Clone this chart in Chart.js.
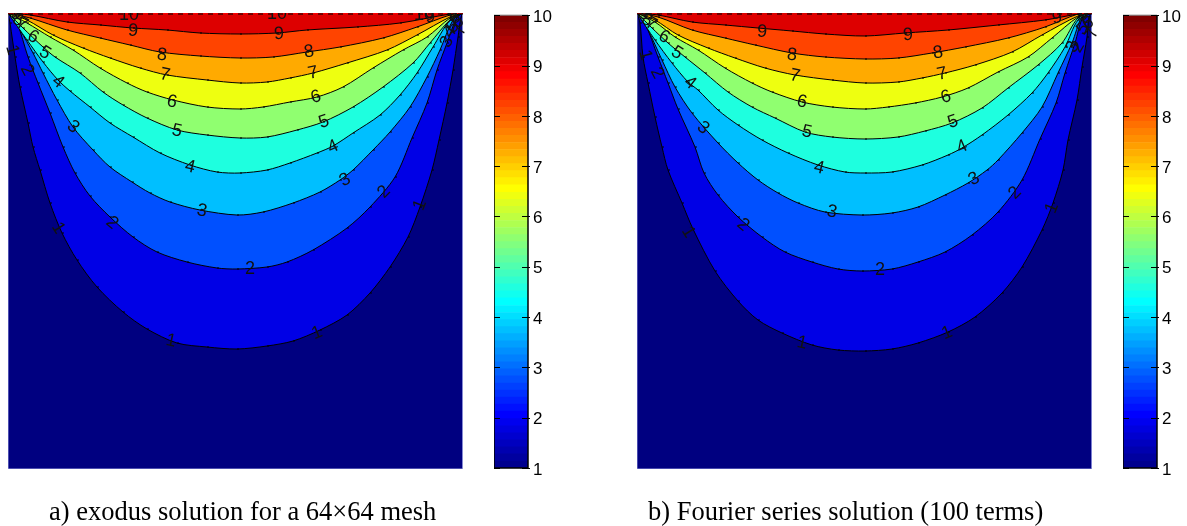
<!DOCTYPE html>
<html>
<head>
<meta charset="utf-8">
<script src="https://cdn.jsdelivr.net/npm/chart.js@4/dist/chart.umd.js"></script>
<style>
  html, body { margin: 0; padding: 0; background: #fff; }
  body { position: relative; width: 1187px; height: 526px; overflow: hidden; }
  .box { position: absolute; top: 0; height: 526px; }
  .caption { position: absolute; top: 496px; font: 26.5px "Liberation Serif", serif; color: #000; white-space: nowrap; }
</style>
</head>
<body>
<div class="box" style="left:0;width:480px"><canvas id="plotA"></canvas></div>
<div class="box" style="left:494px;width:66px"><canvas id="barA"></canvas></div>
<div class="box" style="left:630px;width:480px"><canvas id="plotB"></canvas></div>
<div class="box" style="left:1123px;width:64px"><canvas id="barB"></canvas></div>
<div class="caption" style="left:49px">a) exodus solution for a 64×64 mesh</div>
<div class="caption" style="left:648px">b) Fourier series solution (100 terms)</div>

<script>
// contour lines, [x, y] in domain units (0-455 across, 0-456 up)
const exodus1 = [[0,456],[2,446],[7,412],[12,382],[20,346],[25,322],[32,299],[42,266],[54,236],[69,209],[89,182],[115,157],[139,140],[169,126],[199,122],[229,120],[259,123],[285,128],[312,139],[339,154],[362,176],[382,202],[400,232],[412,262],[424,299],[431,329],[439,366],[445,399],[450,432],[453,452],[455,456]];
const exodus2 = [[0,456],[9,446],[20,412],[30,386],[42,356],[55,322],[67,296],[82,273],[102,252],[125,232],[149,217],[179,207],[209,201],[229,200],[259,202],[279,207],[305,219],[339,241],[362,262],[387,292],[404,331],[419,366],[429,399],[439,426],[449,452],[455,456]];
const exodus3 = [[0,456],[12,439],[25,416],[35,396],[49,369],[65,342],[85,319],[102,302],[124,287],[142,276],[162,267],[192,259],[229,254],[255,257],[285,266],[312,277],[332,289],[345,299],[365,319],[382,337],[402,362],[419,392],[432,419],[445,449],[455,456]];
const exodus4 = [[0,456],[19,429],[35,407],[50,389],[62,378],[82,362],[102,346],[125,332],[152,316],[182,304],[209,297],[232,296],[259,299],[282,306],[309,316],[325,323],[345,336],[372,354],[392,374],[409,396],[425,422],[442,449],[455,456]];
const exodus5 = [[0,456],[15,441],[35,422],[47,412],[72,396],[95,377],[115,364],[139,351],[169,339],[199,334],[232,331],[259,332],[289,339],[315,347],[345,362],[375,382],[405,406],[422,426],[442,449],[455,456]];
const exodus6 = [[0,456],[19,446],[42,432],[65,419],[92,401],[119,386],[139,377],[165,369],[199,362],[232,360],[255,362],[282,367],[309,372],[335,382],[365,401],[395,419],[419,432],[442,451],[455,456]];
const exodus7 = [[0,456],[19,449],[45,434],[75,421],[102,411],[132,401],[159,394],[199,389],[232,386],[259,387],[282,391],[305,396],[339,406],[379,419],[409,434],[442,452],[455,456]];
const exodus8 = [[0,456],[22,451],[59,439],[92,431],[122,424],[152,417],[192,413],[232,411],[265,412],[299,417],[332,422],[375,431],[409,442],[442,454],[455,456]];
const exodus9 = [[0,456],[22,454],[59,447],[92,444],[125,441],[159,439],[192,436],[232,435],[269,436],[299,439],[349,442],[392,446],[442,455],[455,456]];

const fourier1 = [[0,456],[3,446],[6,412],[11,386],[18,352],[25,322],[31,299],[45,266],[56,240],[78,198],[101,168],[121,149],[145,136],[175,124],[201,119],[228,118],[255,120],[281,126],[311,137],[338,152],[365,176],[385,202],[405,239],[416,266],[426,299],[431,329],[440,369],[445,402],[450,432],[452,452],[455,456]];
const fourier2 = [[0,456],[8,446],[21,412],[31,386],[41,360],[58,322],[67,296],[81,274],[101,252],[125,232],[148,217],[175,207],[201,200],[225,198],[255,200],[281,207],[308,217],[335,234],[361,257],[385,289],[403,330],[419,366],[428,396],[438,426],[446,452],[455,456]];
const fourier3 = [[0,456],[11,439],[25,409],[38,382],[55,356],[81,326],[101,306],[121,289],[141,276],[161,266],[188,257],[225,254],[255,256],[281,262],[308,274],[331,286],[350,299],[361,309],[385,336],[405,362],[421,396],[435,426],[445,452],[455,456]];
const fourier4 = [[0,456],[18,429],[35,406],[51,387],[61,379],[81,359],[101,344],[125,329],[151,316],[181,304],[208,297],[228,296],[255,297],[285,304],[311,314],[325,321],[345,334],[371,354],[395,376],[411,396],[428,422],[441,449],[455,456]];
const fourier5 = [[0,456],[15,441],[31,426],[48,412],[68,396],[91,377],[115,362],[138,351],[168,337],[195,332],[228,330],[261,332],[288,338],[315,346],[345,361],[371,381],[401,404],[425,426],[441,451],[455,456]];
const fourier6 = [[0,456],[18,447],[38,432],[61,419],[88,401],[115,386],[135,377],[165,367],[195,362],[228,360],[251,362],[278,366],[305,372],[331,381],[361,397],[391,412],[415,431],[441,452],[455,456]];
const fourier7 = [[0,456],[18,449],[41,434],[71,421],[98,411],[128,401],[158,394],[195,389],[228,386],[261,387],[285,391],[308,396],[338,404],[375,417],[405,434],[441,453],[455,456]];
const fourier8 = [[0,456],[21,452],[55,439],[88,431],[118,424],[155,416],[188,412],[228,410],[261,411],[295,416],[328,422],[371,431],[408,442],[441,455],[455,456]];
const fourier9 = [[0,456],[21,454],[55,447],[88,444],[121,441],[155,438],[188,435],[228,433],[268,436],[311,439],[361,444],[408,449],[441,455],[455,456]];

// clabel text: [text, x, y, rotation]
const exodusLabels = [
  ['10',121,454,0],['10',269,455,0],['10',416,454,0],
  ['9',125,438,4],['9',271,435,-3],['9',422,452,-10],
  ['8',154,414,6],['8',301,417,-8],
  ['7',157,394,12],['7',305,396,-12],
  ['6',164,367,12],['6',308,372,-16],
  ['5',169,338,12],['5',316,347,-18],
  ['4',182,302,14],['4',325,322,-24],
  ['3',65,342,40],['3',194,258,12],['3',337,289,-28],
  ['2',19,399,62],['2',104,246,40],['2',242,200,0],['2',376,277,-45],
  ['1',4,419,75],['1',50,241,58],['1',163,128,12],['1',309,136,-22],['1',412,264,-68],
  ['6',25,432,30],['5',37,416,32],['4',50,387,38],
  ['9',8,455,10],['8',10,449,20],['7',14,445,30],
  ['9',444,454,-15],['8',447,451,-25],['6',450,447,-35],['5',445,442,-45],['4',442,437,-50],['3',439,427,-60],['7',452,439,-70]
];
const fourierLabels = [
  ['9',125,437,4],['9',271,434,-3],['9',420,451,-10],
  ['8',155,414,6],['8',301,416,-8],
  ['7',158,393,12],['7',305,395,-12],
  ['6',165,367,12],['6',309,372,-16],
  ['5',170,337,12],['5',316,347,-18],
  ['4',182,301,14],['4',325,322,-24],
  ['3',66,341,40],['3',195,257,12],['3',337,290,-28],
  ['2',20,396,62],['2',106,244,40],['2',243,199,0],['2',378,276,-45],
  ['1',8,414,75],['1',51,237,58],['1',165,126,12],['1',310,136,-22],['1',415,261,-68],
  ['6',27,432,30],['5',40,416,32],['4',53,386,38],
  ['9',7,455,10],['8',10,449,20],['7',14,445,30],
  ['9',446,454,-15],['8',449,451,-25],['6',451,446,-35],['5',446,440,-45],['3',436,422,-60],['2',441,422,-60],['7',455,436,-70]
];

// filled band above each contour level
const bandColors = ['#000080','#0000e6','#0050ff','#00bfff','#1effdf','#90ff70','#eeff10','#ffaa00','#ff4400','#dd0000'];

// colorbar
const barTicks = [1,2,3,4,5,6,7,8,9,10];
const barSteps = [1,1.14,1.28,1.42,1.56,1.70,1.84,1.98,2.13,2.27,2.41,2.55,2.69,2.83,2.97,3.11,3.25,3.39,3.53,3.67,3.81,3.95,4.09,4.23,4.38,4.52,4.66,4.80,4.94,5.08,5.22,5.36,5.50,5.64,5.78,5.92,6.06,6.20,6.34,6.48,6.63,6.77,6.91,7.05,7.19,7.33,7.47,7.61,7.75,7.89,8.03,8.17,8.31,8.45,8.59,8.73,8.88,9.02,9.16,9.30,9.44,9.58,9.72,9.86,10];
const jetColors = ['#00008f','#00009f','#0000af','#0000bf','#0000cf','#0000df','#0000ef','#0000ff',
  '#0010ff','#0020ff','#0030ff','#0040ff','#0050ff','#0060ff','#0070ff','#0080ff',
  '#008fff','#009fff','#00afff','#00bfff','#00cfff','#00dfff','#00efff','#00ffff',
  '#10ffef','#20ffdf','#30ffcf','#40ffbf','#50ffaf','#60ff9f','#70ff8f','#80ff80',
  '#8fff70','#9fff60','#afff50','#bfff40','#cfff30','#dfff20','#efff10','#ffff00',
  '#ffef00','#ffdf00','#ffcf00','#ffbf00','#ffaf00','#ff9f00','#ff8f00','#ff8000',
  '#ff7000','#ff6000','#ff5000','#ff4000','#ff3000','#ff2000','#ff1000','#ff0000',
  '#ef0000','#df0000','#cf0000','#bf0000','#af0000','#9f0000','#8f0000','#800000'];

Chart.defaults.animation = false;
Chart.defaults.responsive = true;
Chart.defaults.maintainAspectRatio = false;
Chart.defaults.plugins.legend.display = false;
Chart.defaults.plugins.tooltip.enabled = false;

const clabels = {
  id: 'clabels',
  afterDatasetsDraw(chart, args, opts) {
    const { ctx, chartArea, scales } = chart;
    ctx.save();
    ctx.beginPath();
    ctx.rect(0, chartArea.top, chart.width, chart.height);
    ctx.clip();
    ctx.font = '18px "Liberation Sans"';
    ctx.fillStyle = '#111';
    ctx.textAlign = 'center';
    ctx.textBaseline = 'middle';
    opts.items.forEach(l => {
      ctx.save();
      ctx.translate(scales.x.getPixelForValue(l[1]), scales.y.getPixelForValue(l[2]));
      ctx.rotate(l[3] * Math.PI / 180);
      ctx.fillText(l[0], 0, 0);
      ctx.restore();
    });
    ctx.restore();
  }
};

function contourChart(id, lines, items, pad, topColor, edgeColor) {
  const ds = [];
  // base band, then one filled line per level, low levels painted first
  ds.push({ data: [{x:0,y:0},{x:455,y:0}], backgroundColor: bandColors[0], fill: 'end', showLine: true, borderWidth: 0, pointRadius: 0, order: 30 });
  lines.forEach((pts, i) => {
    ds.push({
      data: pts.map(p => ({ x: p[0], y: p[1] })),
      showLine: true, fill: 'end', tension: 0.3,
      backgroundColor: bandColors[i + 1],
      borderColor: '#000', borderWidth: 1,
      pointStyle: 'dash', pointRadius: 2, pointBorderColor: '#000', pointBorderWidth: 1,
      order: 29 - i
    });
  });
  ds.push({ data: [{x:0,y:0},{x:0,y:456},{x:455,y:456},{x:455,y:0},{x:0,y:0}], showLine: true, borderColor: edgeColor, borderWidth: 1, pointRadius: 0, order: 3 });
  ds.push({ data: [{x:0,y:456},{x:455,y:456}], showLine: true, borderColor: topColor, borderWidth: 2, pointRadius: 0, order: 2 });
  ds.push({ data: [{x:0,y:455},{x:455,y:455}], showLine: true, borderColor: '#000', borderWidth: 1, borderDash: [5, 5], pointRadius: 0, order: 1 });
  new Chart(document.getElementById(id), {
    type: 'scatter',
    data: { datasets: ds },
    options: {
      layout: { padding: pad },
      scales: {
        x: { type: 'linear', display: false, min: 0, max: 455 },
        y: { type: 'linear', display: false, min: 0, max: 456 }
      },
      plugins: { clabels: { items: items } }
    },
    plugins: [clabels]
  });
}

const barFrame = {
  id: 'barFrame',
  afterDatasetsDraw(chart) {
    const { ctx, chartArea: a, scales } = chart;
    ctx.save();
    ctx.strokeStyle = '#000';
    ctx.lineWidth = 1.5;
    ctx.beginPath();
    ctx.moveTo(a.left, a.top); ctx.lineTo(a.left, a.bottom); ctx.lineTo(a.right, a.bottom); ctx.lineTo(a.right, a.top);
    ctx.stroke();
    ctx.strokeStyle = '#777';
    ctx.lineWidth = 1;
    ctx.beginPath(); ctx.moveTo(a.left, a.top); ctx.lineTo(a.right, a.top); ctx.stroke();
    ctx.strokeStyle = '#000';
    barTicks.forEach(t => {
      const y = Math.round(scales.y.getPixelForValue(t)) + 0.5;
      ctx.beginPath();
      ctx.moveTo(a.left, y); ctx.lineTo(a.left + 6, y);
      ctx.moveTo(a.right - 6, y); ctx.lineTo(a.right + 2, y);
      ctx.stroke();
    });
    ctx.restore();
  }
};

function colorBar(id, axisWidth) {
  new Chart(document.getElementById(id), {
    type: 'bar',
    data: {
      labels: [''],
      datasets: jetColors.map((c, i) => ({
        data: [[barSteps[i], barSteps[i + 1]]],
        backgroundColor: c, borderWidth: 0,
        barPercentage: 1, categoryPercentage: 1
      }))
    },
    options: {
      layout: { padding: { top: 14, bottom: 58, left: 0, right: 0 } },
      scales: {
        x: { display: false, stacked: true },
        y: {
          position: 'right', min: 1, max: 10, stacked: false,
          afterFit: s => { s.width = axisWidth; },
          grid: { display: false, drawTicks: false },
          border: { display: false },
          ticks: { stepSize: 1, padding: 5, labelOffset: 2, color: '#000', font: { family: 'Liberation Sans', size: 17 }, maxRotation: 0 }
        }
      }
    },
    plugins: [barFrame]
  });
}

contourChart('plotA', [exodus1,exodus2,exodus3,exodus4,exodus5,exodus6,exodus7,exodus8,exodus9], exodusLabels,
  { left: 8, top: 13, right: 17, bottom: 57 }, '#ff0000', '#9a9ee0');
contourChart('plotB', [fourier1,fourier2,fourier3,fourier4,fourier5,fourier6,fourier7,fourier8,fourier9], fourierLabels,
  { left: 7, top: 13, right: 18, bottom: 57 }, '#dd0000', '#8f93dc');
colorBar('barA', 32);
colorBar('barB', 30);
</script>
</body>
</html>
